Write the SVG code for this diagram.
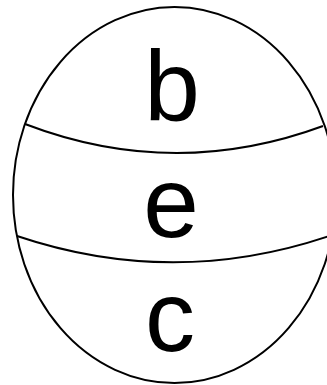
<svg xmlns="http://www.w3.org/2000/svg" width="327" height="385" viewBox="0 0 327 385">
<style>
.ln{fill:none;stroke:#000;stroke-width:2}
.lb{font-family:"Liberation Sans",Arial,sans-serif;font-size:100px;text-anchor:middle;fill:#000}
</style>
<rect width="327" height="385" fill="#fff"/>
<g id="shape">
<ellipse class="ln" cx="174.5" cy="195" rx="161.5" ry="188"/>
</g>
<g id="dividers">
<path class="ln" d="M25,124 Q174,181 323,126"/>
<path class="ln" d="M17,236 Q174.5,289 332,235"/>
</g>
<g id="node-b"><text class="lb" x="172" y="121">b</text></g>
<g id="node-e"><text class="lb" x="171" y="236.5">e</text></g>
<g id="node-c"><text class="lb" x="170" y="350.5">c</text></g>
</svg>
